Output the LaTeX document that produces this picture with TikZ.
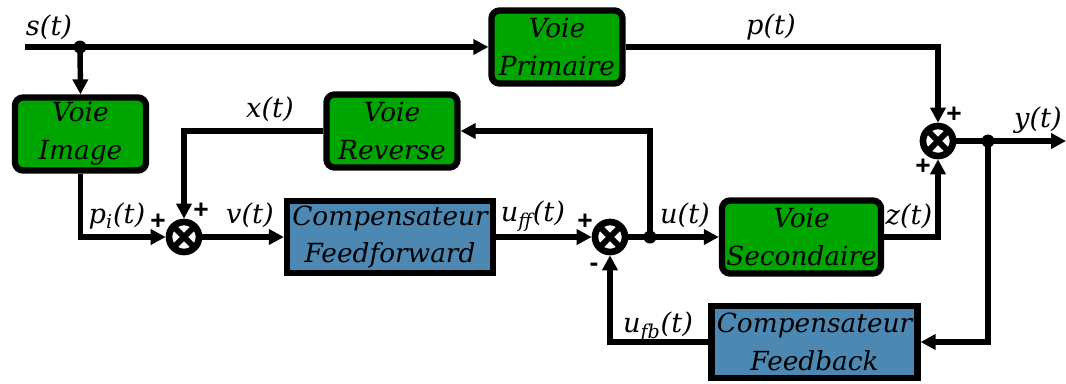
\documentclass[tikz,border=0pt]{standalone}
\usepackage{fontspec}
\newfontfamily\texte{DejaVu Serif}
\newfontfamily\signfont{Liberation Sans}
\usetikzlibrary{arrows.meta}
\definecolor{vert}{RGB}{0,166,0}
\definecolor{bleu}{RGB}{76,136,177}

\begin{document}
\begin{tikzpicture}[x=0.02cm,y=-0.02cm,
        voie/.style={draw,fill=vert,line width=3.6pt,rounded corners=0.16cm,align=center,
            minimum width=2.62cm,minimum height=1.46cm,inner sep=0pt,font=\texte\fontsize{15}{21.5}\selectfont\itshape},
        comp/.style={draw,fill=bleu,line width=3.6pt,align=center,
            minimum width=4.12cm,minimum height=1.44cm,inner sep=0pt,font=\texte\fontsize{15}{21.5}\selectfont\itshape},
        somme/.style={draw,circle,line width=3.8pt,minimum size=0.6cm,inner sep=0pt,
            path picture={\draw[line width=3.4pt] (path picture bounding box.north west) -- (path picture bounding box.south east)
                (path picture bounding box.north east) -- (path picture bounding box.south west);}},
        sig/.style={font=\texte\fontsize{15.5}{20}\selectfont\itshape,inner sep=0pt},
        signe/.style={font=\signfont\bfseries\fontsize{15}{15}\selectfont,inner sep=0pt},
        fl/.style={line width=3.1pt,-{Triangle[length=0.3cm,width=0.3cm]}},
        ligne/.style={line width=3.1pt}]
                \useasboundingbox (0,0) rectangle (1066,383);

                \node[voie] (img) at (80.5,134) {Voie\\Image};
                \node[voie] (prim) at (557,47) {Voie\\Primaire};
                \node[voie] (rev) at (392,131) {Voie\\Reverse};
                \node[voie,minimum width=3.18cm] (sec) at (801.5,237) {Voie\\Secondaire};

                \node[comp] (ff) at (390,237) {Compensateur\\Feedforward};
                \node[comp] (fb) at (814.5,342) {Compensateur\\Feedback};

                \node[somme] (s1) at (184,237) {};
                \node[somme] (s2) at (610,237) {};
                \node[somme] (s3) at (938,141) {};

                \coordinate (in) at (25,47);
                \coordinate (j1) at (80,47);
                \coordinate (j2) at (650,237);
                \coordinate (j3) at (988,141);
                \coordinate (out) at (1066,141);

                \draw[fl] (in) -- (prim.west);
                \draw[fl] (j1) -- (img.north);
                \draw[fl] (img.south) |- (s1.west);
                \draw[fl] (rev.west) -| (s1.north);
                \draw[fl] (s1.east) -- (ff.west);
                \draw[fl] (ff.east) -- (s2.west);
                \draw[fl] (s2.east) -- (sec.west);
                \draw[fl] (j2) |- (rev.east);
                \draw[fl] (prim.east) -| (s3.north);
                \draw[fl] (sec.east) -| (s3.south);
                \draw[fl] (s3.east) -- (out);
                \draw[fl] (j3) |- (fb.east);
                \draw[fl] (fb.west) -| (s2.south);

                \fill (j1) circle (0.13cm);
                \fill (j2) circle (0.13cm);
                \fill (j3) circle (0.13cm);

                \node[sig] (ls) at (49,27) {s(t)};
                \node[sig] (lp) at (771,27) {p(t)};
                \node[sig] (lx) at (270,109) {x(t)};
                \node[sig] (ly) at (1038,120) {y(t)};
                \node[sig] (lpi) at (117,216) {p\textsubscript{i}(t)};
                \node[sig] (lv) at (250,215) {v(t)};
                \node[sig] (luff) at (533,216) {u\textsubscript{ff}(t)};
                \node[sig] (lu) at (685,215) {u(t)};
                \node[sig] (lz) at (909,216) {z(t)};
                \node[sig] (lufb) at (658,327) {u\textsubscript{fb}(t)};

                \node[signe] (p1a) at (158,222) {+};
                \node[signe] (p1b) at (201,211) {+};
                \node[signe] (p2a) at (585,222) {+};
                \node[signe] (m2) at (594,267) {-};
                \node[signe] (p3a) at (954,115) {+};
                \node[signe] (p3b) at (923,167) {+};
            \end{tikzpicture}
\end{document}
